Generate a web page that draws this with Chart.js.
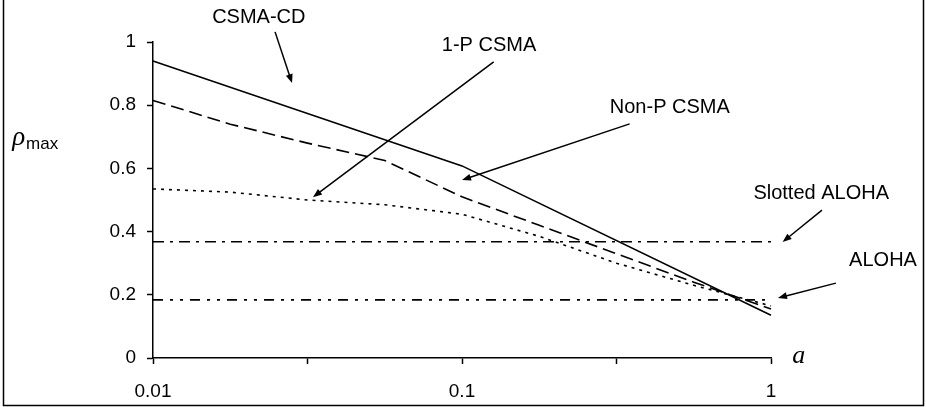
<!DOCTYPE html>
<html>
<head>
<meta charset="utf-8">
<script src="https://cdn.jsdelivr.net/npm/chart.js@4/dist/chart.umd.min.js"></script>
<style>
  html, body { margin: 0; padding: 0; background: #fff; }
  #wrap { width: 926px; height: 407px; }
</style>
</head>
<body>
<div id="wrap"><canvas id="c" width="926" height="407"></canvas></div>
<script>
// ---- data ----
const categories = ['0.01', '0.02', '0.03', '0.05', '0.1', '0.2', '0.3', '0.5', '1'];
const shownTickLabels = ['0.01', '0.1', '1'];
const csmaCD     = [0.94, null, null, null, 0.608, null, null, null, 0.135];
const nonPCSMA   = [0.815, 0.74, 0.68, 0.625, 0.51, 0.42, 0.33, 0.24, 0.155];
const onePCSMA   = [0.535, 0.525, 0.50, 0.485, 0.455, 0.385, 0.30, 0.23, 0.165];
const slottedAloha = [0.368, 0.368, 0.368, 0.368, 0.368, 0.368, 0.368, 0.368, 0.368];
const aloha        = [0.184, 0.184, 0.184, 0.184, 0.184, 0.184, 0.184, 0.184, 0.184];
const yTicks = [0, 0.2, 0.4, 0.6, 0.8, 1];

// annotation labels (anchored in data units: category index, value)
const annotations = [
  { text: 'CSMA-CD',       tx: 1.37, ty: 1.079, ax0: 1.58, ay0: 1.032, ax1: 1.80, ay1: 0.870 },
  { text: '1-P CSMA',      tx: 4.35, ty: 0.990, ax0: 4.41, ay0: 0.937, ax1: 2.07, ay1: 0.509 },
  { text: 'Non-P CSMA',    tx: 6.69, ty: 0.794, ax0: 6.17, ay0: 0.741, ax1: 4.00, ay1: 0.563 },
  { text: 'Slotted ALOHA', tx: 8.65, ty: 0.522, ax0: 8.66, ay0: 0.468, ax1: 8.15, ay1: 0.367 },
  { text: 'ALOHA',         tx: 9.45, ty: 0.310, ax0: 8.84, ay0: 0.237, ax1: 8.09, ay1: 0.190 }
];

const FONT = '"Liberation Sans", Arial, sans-serif';

const annotPlugin = {
  id: 'annot',
  beforeDraw(chart) {
    const ctx = chart.ctx;
    ctx.save();
    ctx.fillStyle = '#fff';
    ctx.fillRect(0, 0, chart.width, chart.height);
    // outer frame
    ctx.strokeStyle = '#000';
    ctx.lineWidth = 1.5;
    ctx.beginPath();
    ctx.moveTo(3.5, 0); ctx.lineTo(3.5, 405.5); ctx.lineTo(923.5, 405.5); ctx.lineTo(923.5, 0);
    ctx.stroke();
    ctx.restore();
  },
  afterDraw(chart) {
    const ctx = chart.ctx;
    const xs = chart.scales.x, ys = chart.scales.y;
    const x0 = xs.getPixelForValue(0), x1 = xs.getPixelForValue(1);
    const px = i => x0 + i * (x1 - x0);
    const py = v => ys.getPixelForValue(v);
    ctx.save();
    ctx.fillStyle = '#000';
    ctx.strokeStyle = '#000';
    ctx.font = '20px ' + FONT;
    ctx.textAlign = 'center';
    ctx.textBaseline = 'middle';
    annotations.forEach(a => {
      ctx.fillText(a.text, px(a.tx), py(a.ty));
      const sx = px(a.ax0), sy = py(a.ay0), ex = px(a.ax1), ey = py(a.ay1);
      const ang = Math.atan2(ey - sy, ex - sx);
      const L = 9, W = 3.5;
      ctx.lineWidth = 1.5;
      ctx.beginPath();
      ctx.moveTo(sx, sy);
      ctx.lineTo(ex - Math.cos(ang) * L * 0.8, ey - Math.sin(ang) * L * 0.8);
      ctx.stroke();
      ctx.beginPath();
      ctx.moveTo(ex, ey);
      ctx.lineTo(ex - Math.cos(ang) * L - Math.sin(ang) * W, ey - Math.sin(ang) * L + Math.cos(ang) * W);
      ctx.lineTo(ex - Math.cos(ang) * L + Math.sin(ang) * W, ey - Math.sin(ang) * L - Math.cos(ang) * W);
      ctx.closePath();
      ctx.fill();
    });
    // y axis title: rho_max
    const yT = py(0.69);
    const xT = px(-1.72);
    ctx.textAlign = 'left';
    ctx.textBaseline = 'alphabetic';
    ctx.font = 'italic 27px "Liberation Serif", "Times New Roman", serif';
    ctx.fillText('ρ', xT - 8, yT + 5);
    const w = ctx.measureText('ρ').width;
    ctx.font = '17px ' + FONT;
    ctx.fillText('max', xT - 8 + w + 1, yT + 9);
    // x axis title: a
    ctx.font = 'italic 26px "Liberation Serif", "Times New Roman", serif';
    ctx.textAlign = 'center';
    ctx.fillText('a', px(8.36), py(0.0) + 5);
    ctx.restore();
  }
};

const lineDs = (label, data, dash) => ({
  label, data,
  borderColor: '#000',
  borderWidth: 1.6,
  borderDash: dash,
  pointRadius: 0,
  fill: false,
  tension: 0,
  spanGaps: true
});

new Chart(document.getElementById('c'), {
  type: 'line',
  data: {
    labels: categories,
    datasets: [
      lineDs('CSMA-CD', csmaCD, []),
      lineDs('Non-P CSMA', nonPCSMA, [13, 6]),
      lineDs('1-P CSMA', onePCSMA, [3, 5]),
      lineDs('Slotted ALOHA', slottedAloha, [11, 6, 3, 6]),
      lineDs('ALOHA', aloha, [10, 7, 3, 7, 3, 7])
    ]
  },
  options: {
    responsive: false,
    animation: false,
    devicePixelRatio: 1,
    layout: { padding: { top: 42, right: 155, left: 0, bottom: 0 } },
    plugins: { legend: { display: false }, tooltip: { enabled: false } },
    scales: {
      x: {
        type: 'category',
        offset: false,
        border: { color: '#000', width: 1.5 },
        grid: {
          drawOnChartArea: false,
          drawTicks: true,
          tickLength: 6,
          tickWidth: 1.5,
          tickColor: c => (c.index % 2 === 0 ? '#000' : 'rgba(0,0,0,0)')
        },
        ticks: {
          autoSkip: false,
          maxRotation: 0,
          padding: 16,
          color: '#000',
          font: { family: FONT, size: 19 },
          callback: function (v, i) {
            const lab = categories[i];
            return shownTickLabels.includes(lab) ? lab : '';
          }
        },
        afterFit: s => { s.height = 49; }
      },
      y: {
        min: 0, max: 1,
        border: { color: '#000', width: 1.5 },
        grid: { drawOnChartArea: false, drawTicks: true, tickLength: 6, tickWidth: 1.5, tickColor: '#000' },
        afterBuildTicks: s => { s.ticks = yTicks.map(v => ({ value: v })); },
        ticks: {
          padding: 11,
          color: '#000',
          font: { family: FONT, size: 19 },
          callback: v => String(v)
        },
        afterFit: s => { s.width = 153; }
      }
    }
  },
  plugins: [annotPlugin]
});
</script>
</body>
</html>
